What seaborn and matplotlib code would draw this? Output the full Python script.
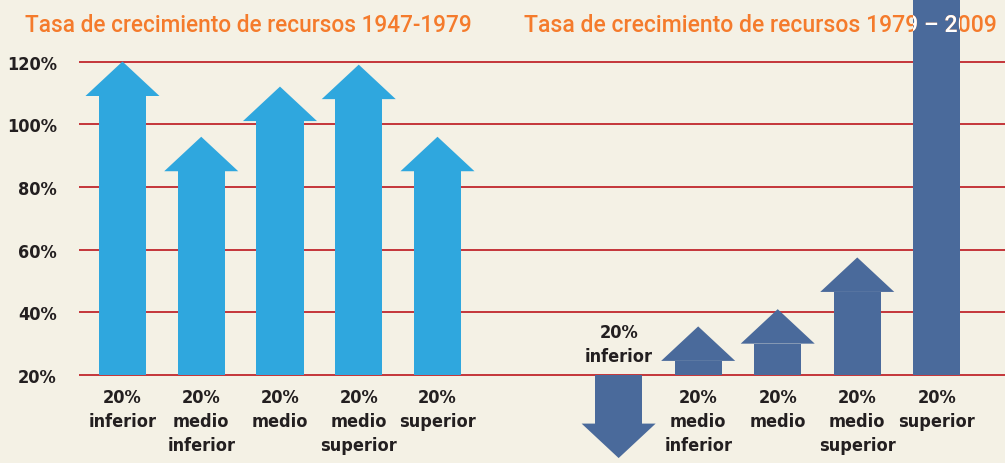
import matplotlib
matplotlib.use("Agg")
import matplotlib.pyplot as plt
import seaborn as sns
import pandas as pd

# values (arrow tip, on the chart's own % axis)
groups = ["20%\ninferior", "20%\nmedio\ninferior", "20%\nmedio",
          "20%\nmedio\nsuperior", "20%\nsuperior"]
tips_1947 = [120, 96, 112, 119, 96]
tips_1979 = [-6.5, 35.5, 41, 57.5, 160]   # last arrow runs off the top
yticks = [20, 40, 60, 80, 100, 120]
ytick_labels = ["20%", "40%", "60%", "80%", "100%", "120%"]
title_1947 = "Tasa de crecimiento de recursos 1947-1979"
title_1979 = "Tasa de crecimiento de recursos 1979 – 2009"

# style
bg = "#f4f1e5"
c_light = "#2fa7de"
c_dark = "#4a6a9b"
c_grid = "#c1272d"
c_text = "#231f20"
c_title = "#f47b2c"
base = 20
head_len = 11
shaft_w = 0.6
head_w = 0.94
lab_font = dict(family="DejaVu Sans", stretch="condensed", fontweight="bold")

sns.set_theme(style="white", rc={"axes.facecolor": bg, "figure.facecolor": bg})

x_left = [i for i in range(len(groups))]
x_right = [6.3 + i * 1.01 for i in range(len(groups))]

rows = []
for x, t in zip(x_left, tips_1947):
    rows.append({"x": x, "tip": t, "period": "1947"})
for x, t in zip(x_right, tips_1979):
    rows.append({"x": x, "tip": t, "period": "1979"})
df = pd.DataFrame(rows)
df["up"] = df["tip"] > base
df["shaft_end"] = df["tip"] - head_len * df["up"].map({True: 1, False: -1})
df["height"] = df["shaft_end"] - base

fig = plt.figure(figsize=(10.05, 4.64), dpi=100)
ax = fig.add_axes([79 / 1005, 0, 1 - 79 / 1005, 1])

sns.barplot(data=df, x="x", y="height", hue="period", native_scale=True,
            palette={"1947": c_light, "1979": c_dark}, dodge=False,
            width=shaft_w, bottom=base, legend=False, ax=ax,
            linewidth=0, saturation=1, zorder=3)

# arrow heads
for _, r in df.iterrows():
    col = c_light if r["period"] == "1947" else c_dark
    ax.fill([r["x"] - head_w / 2, r["x"], r["x"] + head_w / 2],
            [r["shaft_end"], r["tip"], r["shaft_end"]],
            color=col, lw=0, zorder=3)

ax.set_xlim(-0.552, 11.206)
ax.set_ylim(-8.07, 139.94)
ax.set_xticks([])
ax.set_xlabel("")
ax.set_ylabel("")
ax.set_yticks(yticks, ytick_labels)
ax.tick_params(axis="y", length=0, pad=16, labelsize=13, labelcolor=c_text)
for t in ax.get_yticklabels():
    t.set_fontfamily(lab_font["family"])
    t.set_fontstretch(lab_font["stretch"])
    t.set_fontweight("bold")
ax.grid(axis="y", color=c_grid, lw=1.3)
ax.set_axisbelow(True)
sns.despine(ax=ax, left=True, bottom=True)

# category labels
for x, t, g in zip(x_left + x_right, tips_1947 + tips_1979, groups + groups):
    if t > base:
        ax.annotate(g, (x, base), xytext=(0, -9), textcoords="offset points",
                    ha="center", va="top", fontsize=13, color=c_text,
                    linespacing=1.45, **lab_font)
    else:
        ax.annotate(g, (x, base), xytext=(0, 7), textcoords="offset points",
                    ha="center", va="bottom", fontsize=13, color=c_text,
                    linespacing=1.45, **lab_font)

# titles
tkw = dict(color=c_title, fontsize=16.3, family="Roboto", fontweight="medium",
           va="baseline")
fig.text(25 / 1005, 1 - 32 / 464, title_1947, **tkw)
fig.text(524 / 1005, 1 - 32 / 464, title_1979, **{**tkw, "fontsize": 16.6})
# part of the title that sits on the tall bar is white
tall = ax.patches[len(groups) * 2 - 1]
wt = fig.text(524 / 1005, 1 - 32 / 464, title_1979, zorder=4,
              **{**tkw, "fontsize": 16.6, "color": "white"})
wt.set_clip_path(tall)

fig.savefig("out.png", dpi=100, facecolor=bg)
